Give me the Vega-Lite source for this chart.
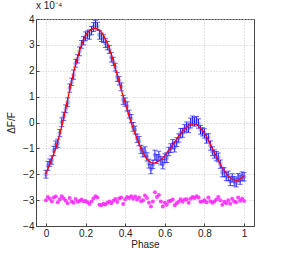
{
  "$schema": "https://vega.github.io/schema/vega-lite/v6.json",
  "width": 218,
  "height": 207,
  "autosize": "none",
  "padding": {"left": 36, "top": 19, "right": 27, "bottom": 29},
  "background": "white",
  "title": {"text": "x 10⁻⁴", "anchor": "start", "frame": "group", "offset": 3, "fontSize": 10, "fontWeight": "normal", "font": "Liberation Sans", "color": "#222"},
  "config": {
    "view": {"stroke": "#444", "strokeWidth": 1},
    "axis": {
      "labelFont": "Liberation Sans", "labelFontSize": 10, "labelColor": "#222",
      "titleFont": "Liberation Sans", "titleFontSize": 10, "titleFontWeight": "normal", "titleColor": "#222",
      "domainColor": "#444", "tickColor": "#444", "tickSize": -3,
      "grid": true, "gridColor": "#c8c8c8", "gridDash": [1, 2], "gridWidth": 1, "labelPadding": 5
    }
  },
  "data": {"values": [
    {"p":0.00,"m":-2.00,"o":-2.00,"e":0.15,"r":-3.00},
    {"p":0.01,"m":-1.80,"o":-1.68,"e":0.17,"r":-2.88},
    {"p":0.02,"m":-1.60,"o":-1.55,"e":0.14,"r":-2.95},
    {"p":0.03,"m":-1.40,"o":-1.45,"e":0.16,"r":-3.05},
    {"p":0.04,"m":-1.20,"o":-1.10,"e":0.18,"r":-2.90},
    {"p":0.05,"m":-1.00,"o":-0.86,"e":0.15,"r":-2.86},
    {"p":0.06,"m":-0.72,"o":-0.80,"e":0.16,"r":-3.08},
    {"p":0.07,"m":-0.44,"o":-0.41,"e":0.14,"r":-2.97},
    {"p":0.08,"m":-0.14,"o":0.01,"e":0.17,"r":-2.85},
    {"p":0.09,"m":0.18,"o":0.24,"e":0.16,"r":-2.94},
    {"p":0.10,"m":0.55,"o":0.53,"e":0.15,"r":-3.02},
    {"p":0.11,"m":0.90,"o":0.78,"e":0.17,"r":-3.12},
    {"p":0.12,"m":1.25,"o":1.33,"e":0.16,"r":-2.92},
    {"p":0.13,"m":1.62,"o":1.57,"e":0.14,"r":-3.05},
    {"p":0.14,"m":1.95,"o":1.85,"e":0.18,"r":-3.10},
    {"p":0.15,"m":2.25,"o":2.29,"e":0.15,"r":-2.96},
    {"p":0.16,"m":2.52,"o":2.46,"e":0.16,"r":-3.06},
    {"p":0.17,"m":2.78,"o":2.75,"e":0.17,"r":-3.03},
    {"p":0.18,"m":3.00,"o":3.02,"e":0.15,"r":-2.98},
    {"p":0.19,"m":3.20,"o":3.16,"e":0.16,"r":-3.04},
    {"p":0.20,"m":3.36,"o":3.33,"e":0.17,"r":-3.03},
    {"p":0.21,"m":3.47,"o":3.39,"e":0.15,"r":-3.08},
    {"p":0.22,"m":3.55,"o":3.40,"e":0.18,"r":-3.15},
    {"p":0.23,"m":3.60,"o":3.55,"e":0.16,"r":-3.05},
    {"p":0.24,"m":3.63,"o":3.69,"e":0.17,"r":-2.94},
    {"p":0.25,"m":3.64,"o":3.79,"e":0.16,"r":-2.85},
    {"p":0.26,"m":3.62,"o":3.72,"e":0.15,"r":-2.90},
    {"p":0.27,"m":3.57,"o":3.39,"e":0.17,"r":-3.18},
    {"p":0.28,"m":3.49,"o":3.29,"e":0.16,"r":-3.20},
    {"p":0.29,"m":3.38,"o":3.24,"e":0.15,"r":-3.14},
    {"p":0.30,"m":3.24,"o":3.07,"e":0.17,"r":-3.17},
    {"p":0.31,"m":3.07,"o":2.97,"e":0.16,"r":-3.10},
    {"p":0.32,"m":2.87,"o":2.82,"e":0.15,"r":-3.05},
    {"p":0.33,"m":2.64,"o":2.52,"e":0.18,"r":-3.12},
    {"p":0.34,"m":2.38,"o":2.36,"e":0.16,"r":-3.02},
    {"p":0.35,"m":2.10,"o":2.14,"e":0.15,"r":-2.96},
    {"p":0.36,"m":1.83,"o":1.76,"e":0.17,"r":-3.07},
    {"p":0.37,"m":1.55,"o":1.61,"e":0.16,"r":-2.94},
    {"p":0.38,"m":1.28,"o":1.38,"e":0.15,"r":-2.90},
    {"p":0.39,"m":1.02,"o":0.87,"e":0.17,"r":-3.15},
    {"p":0.40,"m":0.76,"o":0.79,"e":0.16,"r":-2.97},
    {"p":0.41,"m":0.50,"o":0.62,"e":0.18,"r":-2.88},
    {"p":0.42,"m":0.25,"o":0.33,"e":0.15,"r":-2.92},
    {"p":0.43,"m":0.00,"o":0.15,"e":0.16,"r":-2.85},
    {"p":0.44,"m":-0.22,"o":-0.17,"e":0.17,"r":-2.95},
    {"p":0.45,"m":-0.43,"o":-0.29,"e":0.15,"r":-2.86},
    {"p":0.46,"m":-0.63,"o":-0.61,"e":0.16,"r":-2.98},
    {"p":0.47,"m":-0.82,"o":-0.72,"e":0.18,"r":-2.90},
    {"p":0.48,"m":-1.00,"o":-1.04,"e":0.16,"r":-3.04},
    {"p":0.49,"m":-1.16,"o":-1.16,"e":0.17,"r":-3.00},
    {"p":0.50,"m":-1.30,"o":-1.12,"e":0.18,"r":-2.82},
    {"p":0.51,"m":-1.41,"o":-1.33,"e":0.16,"r":-2.92},
    {"p":0.52,"m":-1.49,"o":-1.59,"e":0.17,"r":-3.10},
    {"p":0.53,"m":-1.55,"o":-1.80,"e":0.18,"r":-3.25},
    {"p":0.54,"m":-1.57,"o":-1.62,"e":0.16,"r":-3.05},
    {"p":0.55,"m":-1.56,"o":-1.26,"e":0.19,"r":-2.70},
    {"p":0.56,"m":-1.53,"o":-1.41,"e":0.17,"r":-2.88},
    {"p":0.57,"m":-1.49,"o":-1.29,"e":0.18,"r":-2.80},
    {"p":0.58,"m":-1.43,"o":-1.48,"e":0.16,"r":-3.05},
    {"p":0.59,"m":-1.36,"o":-1.61,"e":0.18,"r":-3.25},
    {"p":0.60,"m":-1.28,"o":-1.38,"e":0.17,"r":-3.10},
    {"p":0.61,"m":-1.18,"o":-1.36,"e":0.19,"r":-3.18},
    {"p":0.62,"m":-1.08,"o":-1.12,"e":0.16,"r":-3.04},
    {"p":0.63,"m":-0.97,"o":-0.99,"e":0.17,"r":-3.02},
    {"p":0.64,"m":-0.86,"o":-0.84,"e":0.18,"r":-2.98},
    {"p":0.65,"m":-0.75,"o":-0.95,"e":0.19,"r":-3.20},
    {"p":0.66,"m":-0.64,"o":-0.76,"e":0.17,"r":-3.12},
    {"p":0.67,"m":-0.54,"o":-0.60,"e":0.16,"r":-3.06},
    {"p":0.68,"m":-0.44,"o":-0.41,"e":0.18,"r":-2.97},
    {"p":0.69,"m":-0.34,"o":-0.40,"e":0.17,"r":-3.06},
    {"p":0.70,"m":-0.26,"o":-0.24,"e":0.16,"r":-2.98},
    {"p":0.71,"m":-0.19,"o":-0.16,"e":0.18,"r":-2.97},
    {"p":0.72,"m":-0.12,"o":-0.22,"e":0.17,"r":-3.10},
    {"p":0.73,"m":-0.07,"o":-0.02,"e":0.19,"r":-2.95},
    {"p":0.74,"m":-0.05,"o":0.07,"e":0.18,"r":-2.88},
    {"p":0.75,"m":-0.05,"o":0.03,"e":0.17,"r":-2.92},
    {"p":0.76,"m":-0.08,"o":0.07,"e":0.16,"r":-2.85},
    {"p":0.77,"m":-0.14,"o":-0.04,"e":0.18,"r":-2.90},
    {"p":0.78,"m":-0.22,"o":-0.28,"e":0.17,"r":-3.06},
    {"p":0.79,"m":-0.31,"o":-0.36,"e":0.16,"r":-3.05},
    {"p":0.80,"m":-0.42,"o":-0.42,"e":0.18,"r":-3.00},
    {"p":0.81,"m":-0.55,"o":-0.63,"e":0.17,"r":-3.08},
    {"p":0.82,"m":-0.69,"o":-0.59,"e":0.16,"r":-2.90},
    {"p":0.83,"m":-0.85,"o":-0.89,"e":0.18,"r":-3.04},
    {"p":0.84,"m":-1.01,"o":-1.11,"e":0.17,"r":-3.10},
    {"p":0.85,"m":-1.17,"o":-1.22,"e":0.16,"r":-3.05},
    {"p":0.86,"m":-1.32,"o":-1.30,"e":0.18,"r":-2.98},
    {"p":0.87,"m":-1.47,"o":-1.35,"e":0.17,"r":-2.88},
    {"p":0.88,"m":-1.61,"o":-1.61,"e":0.16,"r":-3.00},
    {"p":0.89,"m":-1.74,"o":-1.92,"e":0.18,"r":-3.18},
    {"p":0.90,"m":-1.86,"o":-1.92,"e":0.17,"r":-3.06},
    {"p":0.91,"m":-1.97,"o":-2.09,"e":0.16,"r":-3.12},
    {"p":0.92,"m":-2.06,"o":-2.06,"e":0.18,"r":-3.00},
    {"p":0.93,"m":-2.13,"o":-2.27,"e":0.17,"r":-3.14},
    {"p":0.94,"m":-2.19,"o":-2.14,"e":0.16,"r":-2.95},
    {"p":0.95,"m":-2.22,"o":-2.27,"e":0.18,"r":-3.05},
    {"p":0.96,"m":-2.24,"o":-2.32,"e":0.17,"r":-3.08},
    {"p":0.97,"m":-2.23,"o":-2.13,"e":0.16,"r":-2.90},
    {"p":0.98,"m":-2.19,"o":-2.21,"e":0.18,"r":-3.02},
    {"p":0.99,"m":-2.13,"o":-2.08,"e":0.17,"r":-2.95},
    {"p":1.00,"m":-2.07,"o":-2.10,"e":0.16,"r":-3.03}
  ]},
  "encoding": {
    "x": {"field": "p", "type": "quantitative", "title": "Phase",
          "scale": {"domain": [-0.05, 1.05], "nice": false, "zero": false},
          "axis": {"values": [0, 0.2, 0.4, 0.6, 0.8, 1], "labelExpr": "format(datum.value, '')", "titlePadding": 1}}
  },
  "layer": [
    {
      "mark": {"type": "point", "shape": "circle", "filled": true, "size": 22, "color": "#9a9aff", "opacity": 0.7},
      "encoding": {
        "y": {"field": "o", "type": "quantitative", "title": "ΔF/F",
              "scale": {"domain": [-4, 4], "nice": false, "zero": false},
              "axis": {"values": [-4, -3, -2, -1, 0, 1, 2, 3, 4], "format": "d", "titlePadding": 6, "labelOverlap": false}}
      }
    },
    {
      "mark": {"type": "errorbar", "ticks": {"size": 5, "color": "#2020ff"}, "color": "#2020ff", "thickness": 1},
      "encoding": {
        "y": {"field": "o", "type": "quantitative", "title": "ΔF/F",
              "axis": {"values": [-4, -3, -2, -1, 0, 1, 2, 3, 4], "format": "d", "titlePadding": 6, "labelOverlap": false}},
        "yError": {"field": "e"}
      }
    },
    {
      "mark": {"type": "line", "color": "#ff0000", "strokeWidth": 1.3},
      "encoding": {
        "y": {"field": "m", "type": "quantitative", "title": "ΔF/F",
              "axis": {"values": [-4, -3, -2, -1, 0, 1, 2, 3, 4], "format": "d", "titlePadding": 6, "labelOverlap": false}}
      }
    },
    {
      "mark": {"type": "point", "shape": "circle", "filled": true, "size": 16, "color": "#ff22ff", "opacity": 0.85},
      "encoding": {
        "y": {"field": "r", "type": "quantitative", "title": "ΔF/F",
              "axis": {"values": [-4, -3, -2, -1, 0, 1, 2, 3, 4], "format": "d", "titlePadding": 6, "labelOverlap": false}}
      }
    }
  ]
}
